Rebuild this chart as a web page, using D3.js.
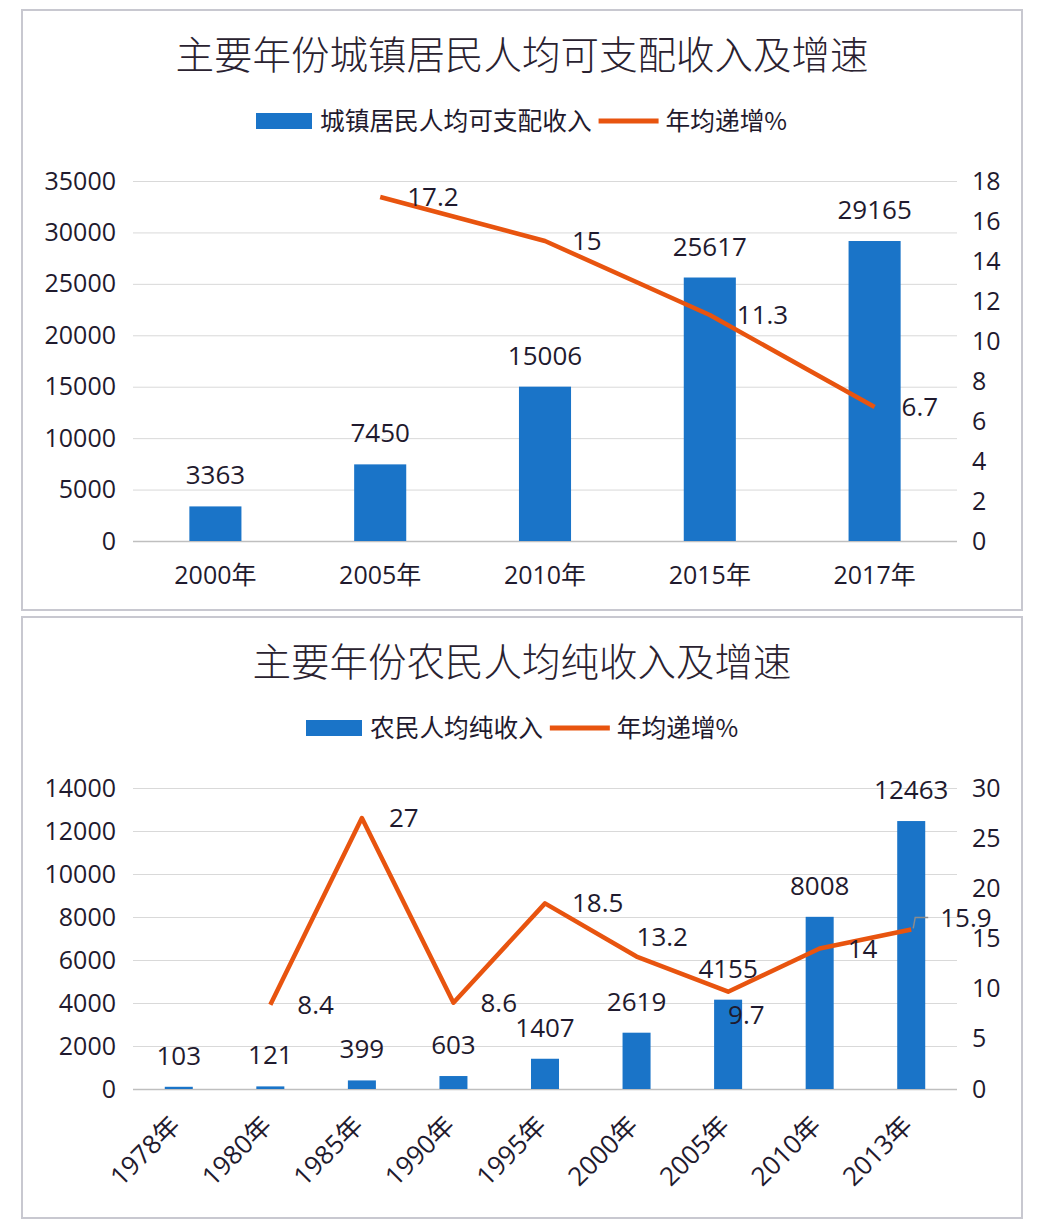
<!DOCTYPE html>
<html><head><meta charset="utf-8">
<script src="https://cdn.jsdelivr.net/npm/d3@7"></script>
<style>
body{margin:0;background:#fff;}
svg text{font-family:"Open Sans","Noto Sans CJK SC",sans-serif;fill:#1f1a2e;}
</style></head><body>
<svg id="c" width="1046" height="1226"></svg>
<script>
// ---- Data ----
const title1 = "主要年份城镇居民人均可支配收入及增速";
const legendBar1 = "城镇居民人均可支配收入";
const legendLine = "年均递增%";
const years1 = ["2000年","2005年","2010年","2015年","2017年"];
const income1 = [3363, 7450, 15006, 25617, 29165];
const growth1 = [null, 17.2, 15, 11.3, 6.7];
const leftTicks1 = [0,5000,10000,15000,20000,25000,30000,35000];
const rightTicks1 = [0,2,4,6,8,10,12,14,16,18];

const title2 = "主要年份农民人均纯收入及增速";
const legendBar2 = "农民人均纯收入";
const years2 = ["1978年","1980年","1985年","1990年","1995年","2000年","2005年","2010年","2013年"];
const income2 = [103, 121, 399, 603, 1407, 2619, 4155, 8008, 12463];
const growth2 = [null, 8.4, 27, 8.6, 18.5, 13.2, 9.7, 14, 15.9];
const leftTicks2 = [0,2000,4000,6000,8000,10000,12000,14000];
const rightTicks2 = [0,5,10,15,20,25,30];

// label placement (style)
const lblOff1 = [null,[27,0],[27,0],[27,0],[27,0]];
const lblOff2 = [null,[27,0],[27,0],[27,0],[27,0],[0,-20],[0,23],[28,0],[29,-12]];

const BLUE = "#1a74c8", ORANGE = "#e8540f", GRID = "#d9d9d9", AXIS="#bfbfbf";
const svg = d3.select("#c");

function panel(cfg){
  const g = svg.append("g");
  g.append("rect").attr("x",22).attr("y",cfg.top).attr("width",1000).attr("height",cfg.h)
    .attr("fill","#fff").attr("stroke","#c8c8d0").attr("stroke-width",2);
  g.append("text").attr("x",522).attr("y",cfg.titleY).attr("text-anchor","middle")
    .style("font-family","'Noto Sans CJK SC',sans-serif").style("font-weight",300)
    .style("font-size","38.5px").style("fill","#2a2230").text(cfg.title);
  // legend
  const lg = g.append("g");
  lg.append("rect").attr("x",cfg.legX).attr("y",cfg.legY-8).attr("width",56).attr("height",16).attr("fill",BLUE);
  const t1 = lg.append("text").attr("x",cfg.legX+64).attr("y",cfg.legY).attr("dy","0.35em")
    .style("font-family","'Noto Sans CJK SC',sans-serif").style("font-size","24.7px").text(cfg.legBar);
  const w1 = t1.node().getComputedTextLength();
  const lx = cfg.legX+64+w1+7;
  lg.append("line").attr("x1",lx).attr("x2",lx+60).attr("y1",cfg.legY).attr("y2",cfg.legY)
    .attr("stroke",ORANGE).attr("stroke-width",5);
  lg.append("text").attr("x",lx+67).attr("y",cfg.legY).attr("dy","0.35em")
    .style("font-family","'Noto Sans CJK SC',sans-serif").style("font-size","24.7px").text(legendLine);

  const x = d3.scaleBand().domain(cfg.cats).range([133,957]).paddingInner(cfg.pad).paddingOuter(cfg.pad/2);
  const yL = d3.scaleLinear().domain([0,cfg.lmax]).range([cfg.y0,cfg.y1]);
  const yR = d3.scaleLinear().domain([0,cfg.rmax]).range([cfg.y0,cfg.y1]);

  // grid
  const gl = g.append("g").attr("transform","translate(133,0)")
    .call(d3.axisLeft(yL).tickValues(cfg.lt).tickSize(-824).tickFormat(""));
  gl.select(".domain").remove();
  gl.selectAll(".tick line").attr("stroke",d=>d===0?AXIS:GRID).attr("stroke-width",d=>d===0?1.5:1);
  // left axis labels
  const al = g.append("g").attr("transform","translate(133,0)")
    .call(d3.axisLeft(yL).tickValues(cfg.lt).tickSize(0).tickPadding(17).tickFormat(d3.format("d")));
  al.select(".domain").remove();
  al.selectAll("text").style("font-size","25px").style("fill","#1f1a2e");
  const ar = g.append("g").attr("transform","translate(957,0)")
    .call(d3.axisRight(yR).tickValues(cfg.rt).tickSize(0).tickPadding(15).tickFormat(d3.format("d")));
  ar.select(".domain").remove();
  ar.selectAll("text").style("font-size","25px").style("fill","#1f1a2e");

  // bars
  g.selectAll(".bar").data(cfg.vals).enter().append("rect")
    .attr("x",(d,i)=>x(cfg.cats[i])).attr("width",x.bandwidth())
    .attr("y",d=>yL(d)).attr("height",d=>cfg.y0-yL(d)).attr("fill",BLUE);
  g.selectAll(".bl").data(cfg.vals).enter().append("text")
    .attr("x",(d,i)=>x(cfg.cats[i])+x.bandwidth()/2).attr("y",d=>yL(d)-22)
    .attr("text-anchor","middle").style("font-size","26px").text(d=>d);

  // x labels
  const ax = g.append("g").attr("transform",`translate(0,${cfg.y0})`)
    .call(d3.axisBottom(x).tickSize(0).tickPadding(0));
  ax.select(".domain").remove();
  if(cfg.rot){
    ax.selectAll("text").style("font-size","26px").attr("text-anchor","end")
      .attr("dy",0).attr("y",0)
      .attr("transform","translate(3,38) rotate(-45)");
  } else {
    ax.selectAll("text").style("font-size","25px").attr("dy",0).attr("y",43);
  }

  // line
  const pts = cfg.growth.map((v,i)=>({v,i})).filter(p=>p.v!==null);
  const line = d3.line().x(p=>x(cfg.cats[p.i])+x.bandwidth()/2).y(p=>yR(p.v));
  g.append("path").datum(pts).attr("d",line).attr("fill","none")
    .attr("stroke",ORANGE).attr("stroke-width",4.5).attr("stroke-linejoin","round");
  pts.forEach(p=>{
    const px = x(cfg.cats[p.i])+x.bandwidth()/2, py = yR(p.v);
    const o = cfg.off[p.i];
    if(cfg.leader && p.i===cfg.leader){
      g.append("polyline").attr("points",`${px+2},${py-1} ${px+4},${py+o[1]} ${px+17},${py+o[1]}`)
        .attr("fill","none").attr("stroke","#8c8c8c").attr("stroke-width",1.5);
    }
    g.append("text").attr("x",px+o[0]).attr("y",py+o[1]).attr("dy","0.35em")
      .style("font-size","26px").text(p.v);
  });
}

panel({top:10,h:600,title:title1,titleY:69,legBar:legendBar1,legX:256,legY:121,
  cats:years1,vals:income1,growth:growth1,pad:0.684,lmax:35000,rmax:18,y0:541,y1:181,
  lt:leftTicks1,rt:rightTicks1,off:lblOff1,rot:false});
panel({top:617,h:601,title:title2,titleY:676,legBar:legendBar2,legX:306,legY:728,
  cats:years2,vals:income2,growth:growth2,pad:0.694,lmax:14000,rmax:30,y0:1089,y1:788,
  lt:leftTicks2,rt:rightTicks2,off:lblOff2,rot:true,leader:8});
</script></body></html>
